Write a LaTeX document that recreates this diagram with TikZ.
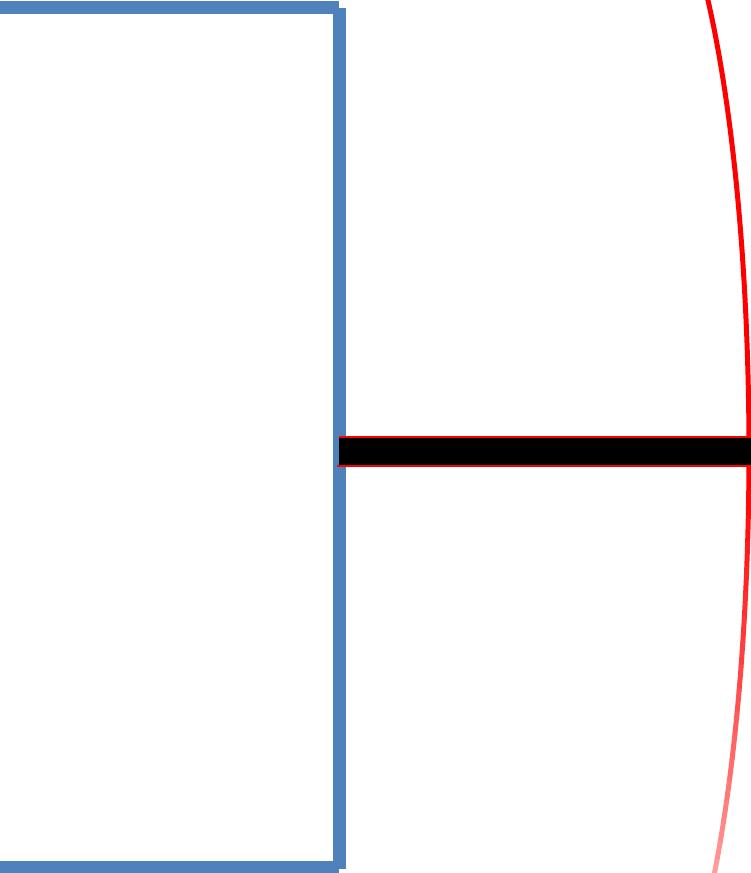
\documentclass[tikz,border=0pt]{standalone}
\usepackage{xcolor}
\usepackage{tikz}
\usetikzlibrary{calc}

\definecolor{frameblue}{RGB}{79,129,189}

\begin{document}
\begin{tikzpicture}[x=1pt, y=1pt,
    wall/.style={draw=frameblue, line width=13pt, line cap=butt},
    lens/.style={line width=5pt, line cap=round},
    bar/.style={fill=black},
    rim/.style={draw=red, line width=2.5pt}
]
\useasboundingbox (0,0) rectangle (751,873);
\clip (0,0) rectangle (751,873);

% frame
\coordinate (tl) at (-30,865);
\coordinate (tr) at (339,865);
\coordinate (br) at (339,4);
\coordinate (bl) at (-30,5);
\draw[wall] (tl) -- (tr);
\draw[wall] (tr) -- (br);
\draw[wall] (bl) -- ($(bl)+(369,0)$);

% curve, upper half
\coordinate (lc) at (629,421);
\draw[lens, draw=red] ([shift={(52:120 and 600)}]lc) arc[start angle=52, end angle=1.4, x radius=120, y radius=600];

% curve, lower half (fading)
\foreach \i in {0,...,19} {
    \pgfmathsetmacro{\sa}{-1.4-\i*2.45}
    \pgfmathsetmacro{\ea}{\sa-2.45}
    \pgfmathsetmacro{\mix}{100-\i*3.6}
    \draw[lens, draw=red!\mix!white] ([shift={(\sa:120 and 600)}]lc) arc[start angle=\sa, end angle=\ea, x radius=120, y radius=600];
}

% bar
\coordinate (ba) at (339,436);
\coordinate (bb) at (751,407);
\fill[bar] (ba) rectangle (bb);
\draw[rim] (ba) -- (ba -| bb);
\draw[rim] ($(ba |- bb)+(-2,0)$) -- (bb);
\end{tikzpicture}
\end{document}
